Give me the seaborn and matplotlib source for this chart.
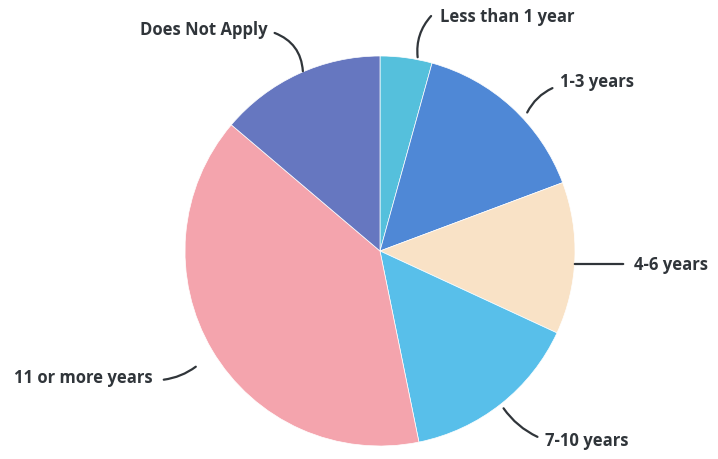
import matplotlib.pyplot as plt
import seaborn as sns

labels = ["Less than 1 year", "1-3 years", "4-6 years", "7-10 years",
          "11 or more years", "Does Not Apply"]
shares = [4.3, 15.0, 12.6, 14.9, 39.4, 13.8]
colors = ["#55c0dc", "#4f88d6", "#f9e2c6", "#58bfea", "#f4a4ad", "#6677c0"]

sns.set_theme(style="white")
plt.rcParams['font.family'] = ['Open Sans', 'DejaVu Sans']

# pixel layout helpers (center of pie at 380,251, radius 195 px)
CX, CY, R = 380, 251, 195


def px(x, y):
    return ((x - CX) / R, (CY - y) / R)


fig = plt.figure(figsize=(7.18, 4.59), dpi=100)
ax = fig.add_axes([0, 0, 1, 1])
ax.pie(shares, colors=colors, startangle=90, counterclock=False, radius=1,
       wedgeprops=dict(edgecolor="white", linewidth=0.5))
ax.set_xlim(-CX / R, (718 - CX) / R)
ax.set_ylim((CY - 459) / R, CY / R)
ax.set_aspect("equal")
ax.axis("off")

# label: (text anchor px, ha, line start px, line end px, curvature)
anns = {
    "Does Not Apply": ((268, 30), "right", (272, 32), (303, 74), -0.35),
    "Less than 1 year": ((440, 17), "left", (433, 14), (418, 60), 0.25),
    "1-3 years": ((560, 82), "left", (555, 87), (526, 115), 0.2),
    "4-6 years": ((634, 265), "left", (626, 264), (572, 264), 0.0),
    "7-10 years": ((545, 441), "left", (540, 438), (502, 406), -0.15),
    "11 or more years": ((153, 378), "right", (161, 380), (198, 365), 0.15),
}
for lab in labels:
    tpos, ha, p0, p1, rad = anns[lab]
    ax.text(*px(*tpos), lab, ha=ha, va="center", fontsize=12,
            fontweight="bold", color="#30353a")
    ax.annotate("", xy=px(*p1), xytext=px(*p0),
                arrowprops=dict(arrowstyle="-", color="#30353a", lw=1.6,
                                connectionstyle=f"arc3,rad={rad}"))

fig.savefig("out.png", dpi=100)
